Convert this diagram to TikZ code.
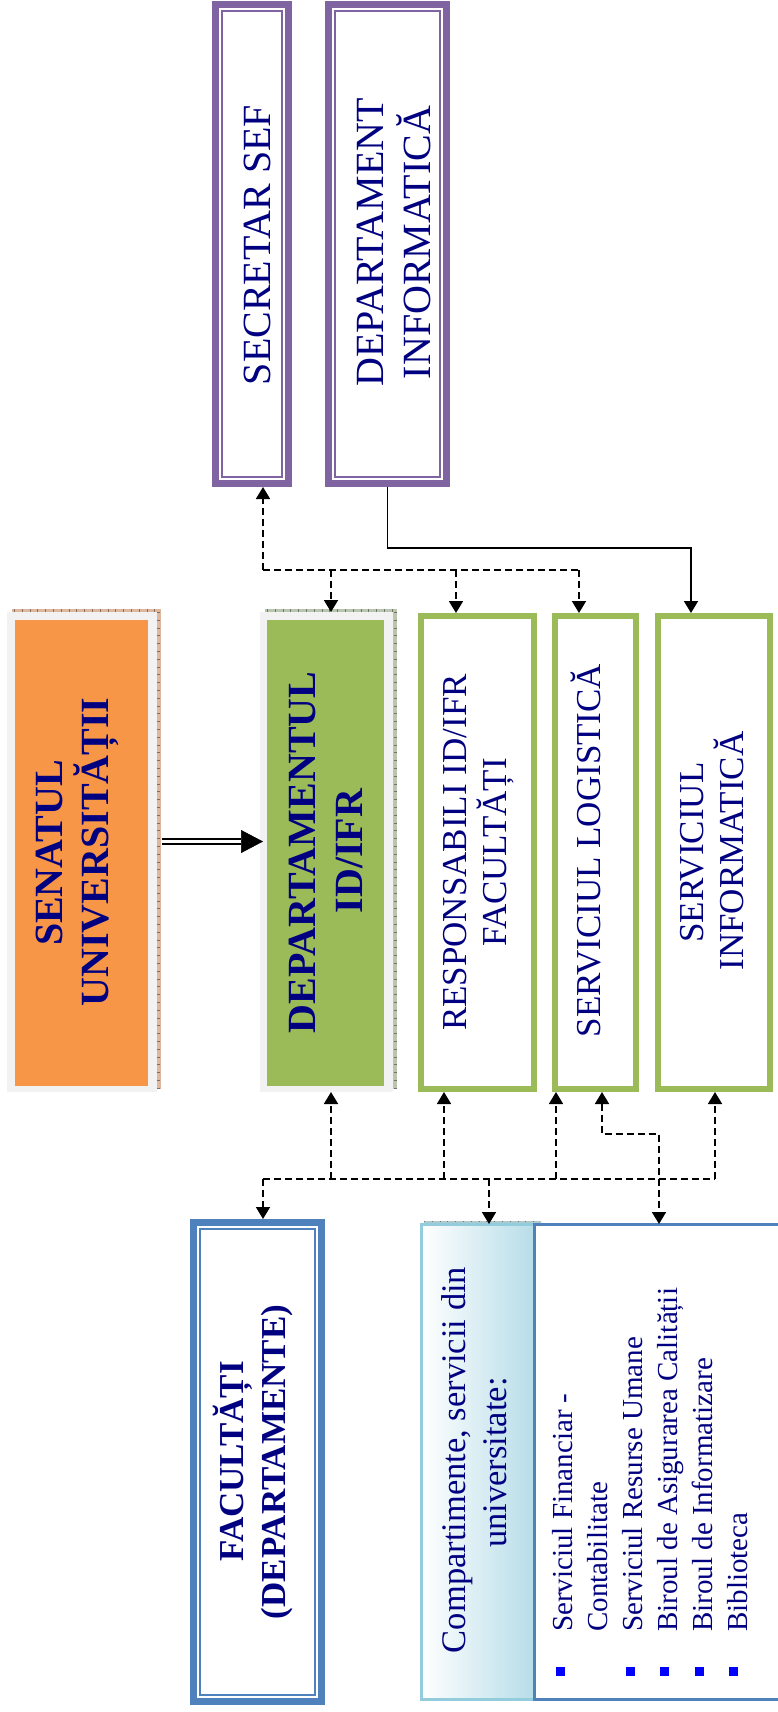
\documentclass[tikz,border=0pt]{standalone}
\usepackage{fontspec}
\setmainfont{Liberation Serif}
\usetikzlibrary{arrows.meta,calc}
\definecolor{navyt}{RGB}{0,0,128}
\definecolor{orng}{HTML}{F79646}
\definecolor{grn}{HTML}{9BBB59}
\definecolor{purp}{HTML}{8064A2}
\definecolor{blu}{HTML}{4F81BD}
\definecolor{lbl}{HTML}{93CDDD}
\definecolor{lbg}{HTML}{B7DDE8}
\definecolor{frm}{HTML}{F2F2F2}
\definecolor{tanx}{HTML}{DDB89E}
\definecolor{grnx}{HTML}{B9C5AE}
\definecolor{tealx}{HTML}{AFC8CC}
\definecolor{bul}{HTML}{0000FF}
\newcommand\setfs[2]{\fontsize{#1}{#2}\selectfont}
\begin{document}
\begin{tikzpicture}[x=1pt,y=-1pt,
  >={Triangle[length=12pt,width=14pt]},
  base/.style={rectangle, inner sep=0pt, outer sep=0pt},
  wh/.style 2 args={minimum width=#1pt, minimum height=#2pt},
  purplebox/.style={base, fill=white, path picture={
    \draw[purp, line width=7pt] ([xshift=3.5pt,yshift=-3.5pt]path picture bounding box.north west) rectangle ([xshift=-3.5pt,yshift=3.5pt]path picture bounding box.south east);
    \draw[purp, line width=1.6pt] ([xshift=10pt,yshift=-10pt]path picture bounding box.north west) rectangle ([xshift=-10pt,yshift=10pt]path picture bounding box.south east);}},
  bluebox/.style={base, fill=white, path picture={
    \draw[blu, line width=7pt] ([xshift=3.5pt,yshift=-3.5pt]path picture bounding box.north west) rectangle ([xshift=-3.5pt,yshift=3.5pt]path picture bounding box.south east);
    \draw[blu, line width=2pt] ([xshift=10pt,yshift=-10pt]path picture bounding box.north west) rectangle ([xshift=-10pt,yshift=10pt]path picture bounding box.south east);}},
  greenbox/.style={base, fill=white, path picture={
    \draw[grn, line width=6pt] ([xshift=3pt,yshift=-3pt]path picture bounding box.north west) rectangle ([xshift=-3pt,yshift=3pt]path picture bounding box.south east);}},
  tbig/.style={rotate=90, anchor=base, inner sep=0pt, text=navyt, font=\setfs{40}{46}\bfseries},
  treg/.style={rotate=90, anchor=base, inner sep=0pt, text=navyt, font=\setfs{40}{46}},
  tmid/.style={rotate=90, anchor=base, inner sep=0pt, text=navyt, font=\setfs{35}{40}},
  tmidb/.style={rotate=90, anchor=base, inner sep=0pt, text=navyt, font=\setfs{35}{40}\bfseries},
  tcomp/.style={rotate=90, anchor=base, inner sep=0pt, text=navyt, font=\setfs{34.5}{40}},
  titem/.style={rotate=90, anchor=base west, inner sep=0pt, text=navyt, font=\setfs{29}{35}},
  dconn/.style={line width=1.8pt, dash pattern=on 7pt off 4pt},
  sconn/.style={line width=1.8pt},
  tick/.style={line width=3pt, dash pattern=on 0.8pt off 7pt},
]
\useasboundingbox (0,0) rectangle (777,1712);
\fill[white] (0,0) rectangle (777,1712);

% ---- Senatul
\fill[tanx] (12,609) rectangle (160.5,1089);
\draw[tick, tanx!60!black] (14,610.5) -- (160,610.5);
\draw[tick, tanx!60!black] (158.5,612) -- (158.5,1088);
\node[base, wh={150}{480}, fill=frm] (sen) at (82,852) {};
\fill[orng] (15,620) rectangle (148,1086);
\node[tbig] at (62,853) {SENATUL};
\node[tbig] at (108,852) {UNIVERSITĂȚII};

% ---- Departamentul ID/IFR
\fill[grnx] (265,609) rectangle (397,1089);
\draw[tick, grnx!60!black] (267,610.5) -- (396,610.5);
\draw[tick, grnx!60!black] (395,612) -- (395,1088);
\node[base, wh={133}{480}, fill=frm] (dep) at (326.5,852) {};
\fill[grn] (267,620) rectangle (384,1086);
\node[tbig] at (315,852.5) {DEPARTAMENTUL};
\node[tbig] at (362,851) {ID/IFR};

% ---- double arrow
\draw[line width=1.9pt, double, double distance=2.6pt] ($(sen.east)+(5,-10.5)$) -- ($(dep.west)+(-19,-10.5)$);
\draw[-{Triangle[length=22pt,width=23pt]}, line width=0.5pt] ($(dep.west)+(-19.5,-10.5)$) -- ($(dep.west)+(3,-10.5)$);

% ---- purple boxes
\node[purplebox, wh={80}{486}] (sec) at (252,244) {};
\node[treg] at (270,245) {SECRETAR SEF};
\node[purplebox, wh={125}{486}] (dinf) at (387.5,244) {};
\node[treg] at (383,242.5) {DEPARTAMENT};
\node[treg] at (430,242.5) {INFORMATICĂ};

% ---- green boxes
\node[greenbox, wh={119}{479}] (resp) at (477.5,852.5) {};
\node[tmid] at (466,852.5) {RESPONSABILI ID/IFR};
\node[tmid] at (506,852.5) {FACULTĂȚI};
\node[greenbox, wh={87}{479}] (slog) at (595.5,852.5) {};
\node[tmid] at (600,850.5) {SERVICIUL LOGISTICĂ};
\node[greenbox, wh={118}{479}] (sinf) at (714,852.5) {};
\node[tmid] at (703,852.5) {SERVICIUL};
\node[tmid] at (743,851) {INFORMATICĂ};

% ---- Facultati
\node[bluebox, wh={135}{486}] (fac) at (257.5,1462) {};
\node[tmidb] at (243.5,1461.5) {FACULTĂȚI};
\node[tmidb] at (285,1462) {(DEPARTAMENTE)};

% ---- Compartimente
\fill[tealx] (424,1220.5) rectangle (541,1223.5);
\draw[tick, tealx!60!black, line width=1.5pt] (424,1221.5) -- (541,1221.5);
\node[base, wh={113}{475}, left color=white, right color=lbg, draw=lbl, line width=3pt] (comp) at (477.5,1461.5) {};
\node[base, wh={250}{475}, draw=blu, line width=3pt] (list) at (659,1461.5) {};
\node[tcomp] at (465,1460) {Compartimente, servicii din};
\node[tcomp] at (506,1462.5) {universitate:};

\node[titem] at (572,1632) {Serviciul Financiar -};
\node[titem] at (607,1632) {Contabilitate};
\node[titem] at (642,1632) {Serviciul Resurse Umane};
\node[titem] at (677,1632) {Biroul de Asigurarea Calității};
\node[titem] at (712,1632) {Biroul de Informatizare};
\node[titem] at (747,1632) {Biblioteca};
\foreach \bx in {560.5,630,664.5,699.5,733.5}
  \fill[bul] (\bx-4.5,1666.5) rectangle (\bx+4.5,1675.5);

% ---- top connectors
\coordinate (t0) at (263,570);
\coordinate (t1) at (331,570);
\coordinate (t2) at (456,570);
\coordinate (t3) at (579,570);
\draw[dconn] (t0) -- (t3);
\draw[dconn,->] (t0) -- (t0 |- sec.south);
\draw[dconn,->] (t1) -- (t1 |- dep.north);
\draw[dconn,->] (t2) -- (t2 |- resp.north);
\draw[dconn,->] (t3) -- (t3 |- slog.north);
\coordinate (s1) at (691,548);
\draw[sconn,->] (dinf.south) |- (s1) -- (s1 |- sinf.north);

% ---- bottom connectors
\coordinate (b0) at (263,1179);
\coordinate (b1) at (331,1179);
\coordinate (b2) at (444,1179);
\coordinate (b3) at (489,1179);
\coordinate (b4) at (556,1179);
\coordinate (b5) at (715,1179);
\draw[dconn] (b0) -- (b5);
\draw[dconn,->] (b0) -- (b0 |- fac.north);
\draw[dconn,->] (b1) -- (b1 |- dep.south);
\draw[dconn,->] (b2) -- (b2 |- resp.south);
\draw[dconn,->] (b3) -- (b3 |- comp.north);
\draw[dconn,->] (b4) -- (b4 |- slog.south);
\draw[dconn,->] (b5) -- (b5 |- sinf.south);
\coordinate (c1) at (602,1134);
\coordinate (c2) at (659,1134);
\draw[dconn,<->] (c1 |- slog.south) -- (c1) -- (c2) -- (c2 |- list.north);
\end{tikzpicture}
\end{document}
